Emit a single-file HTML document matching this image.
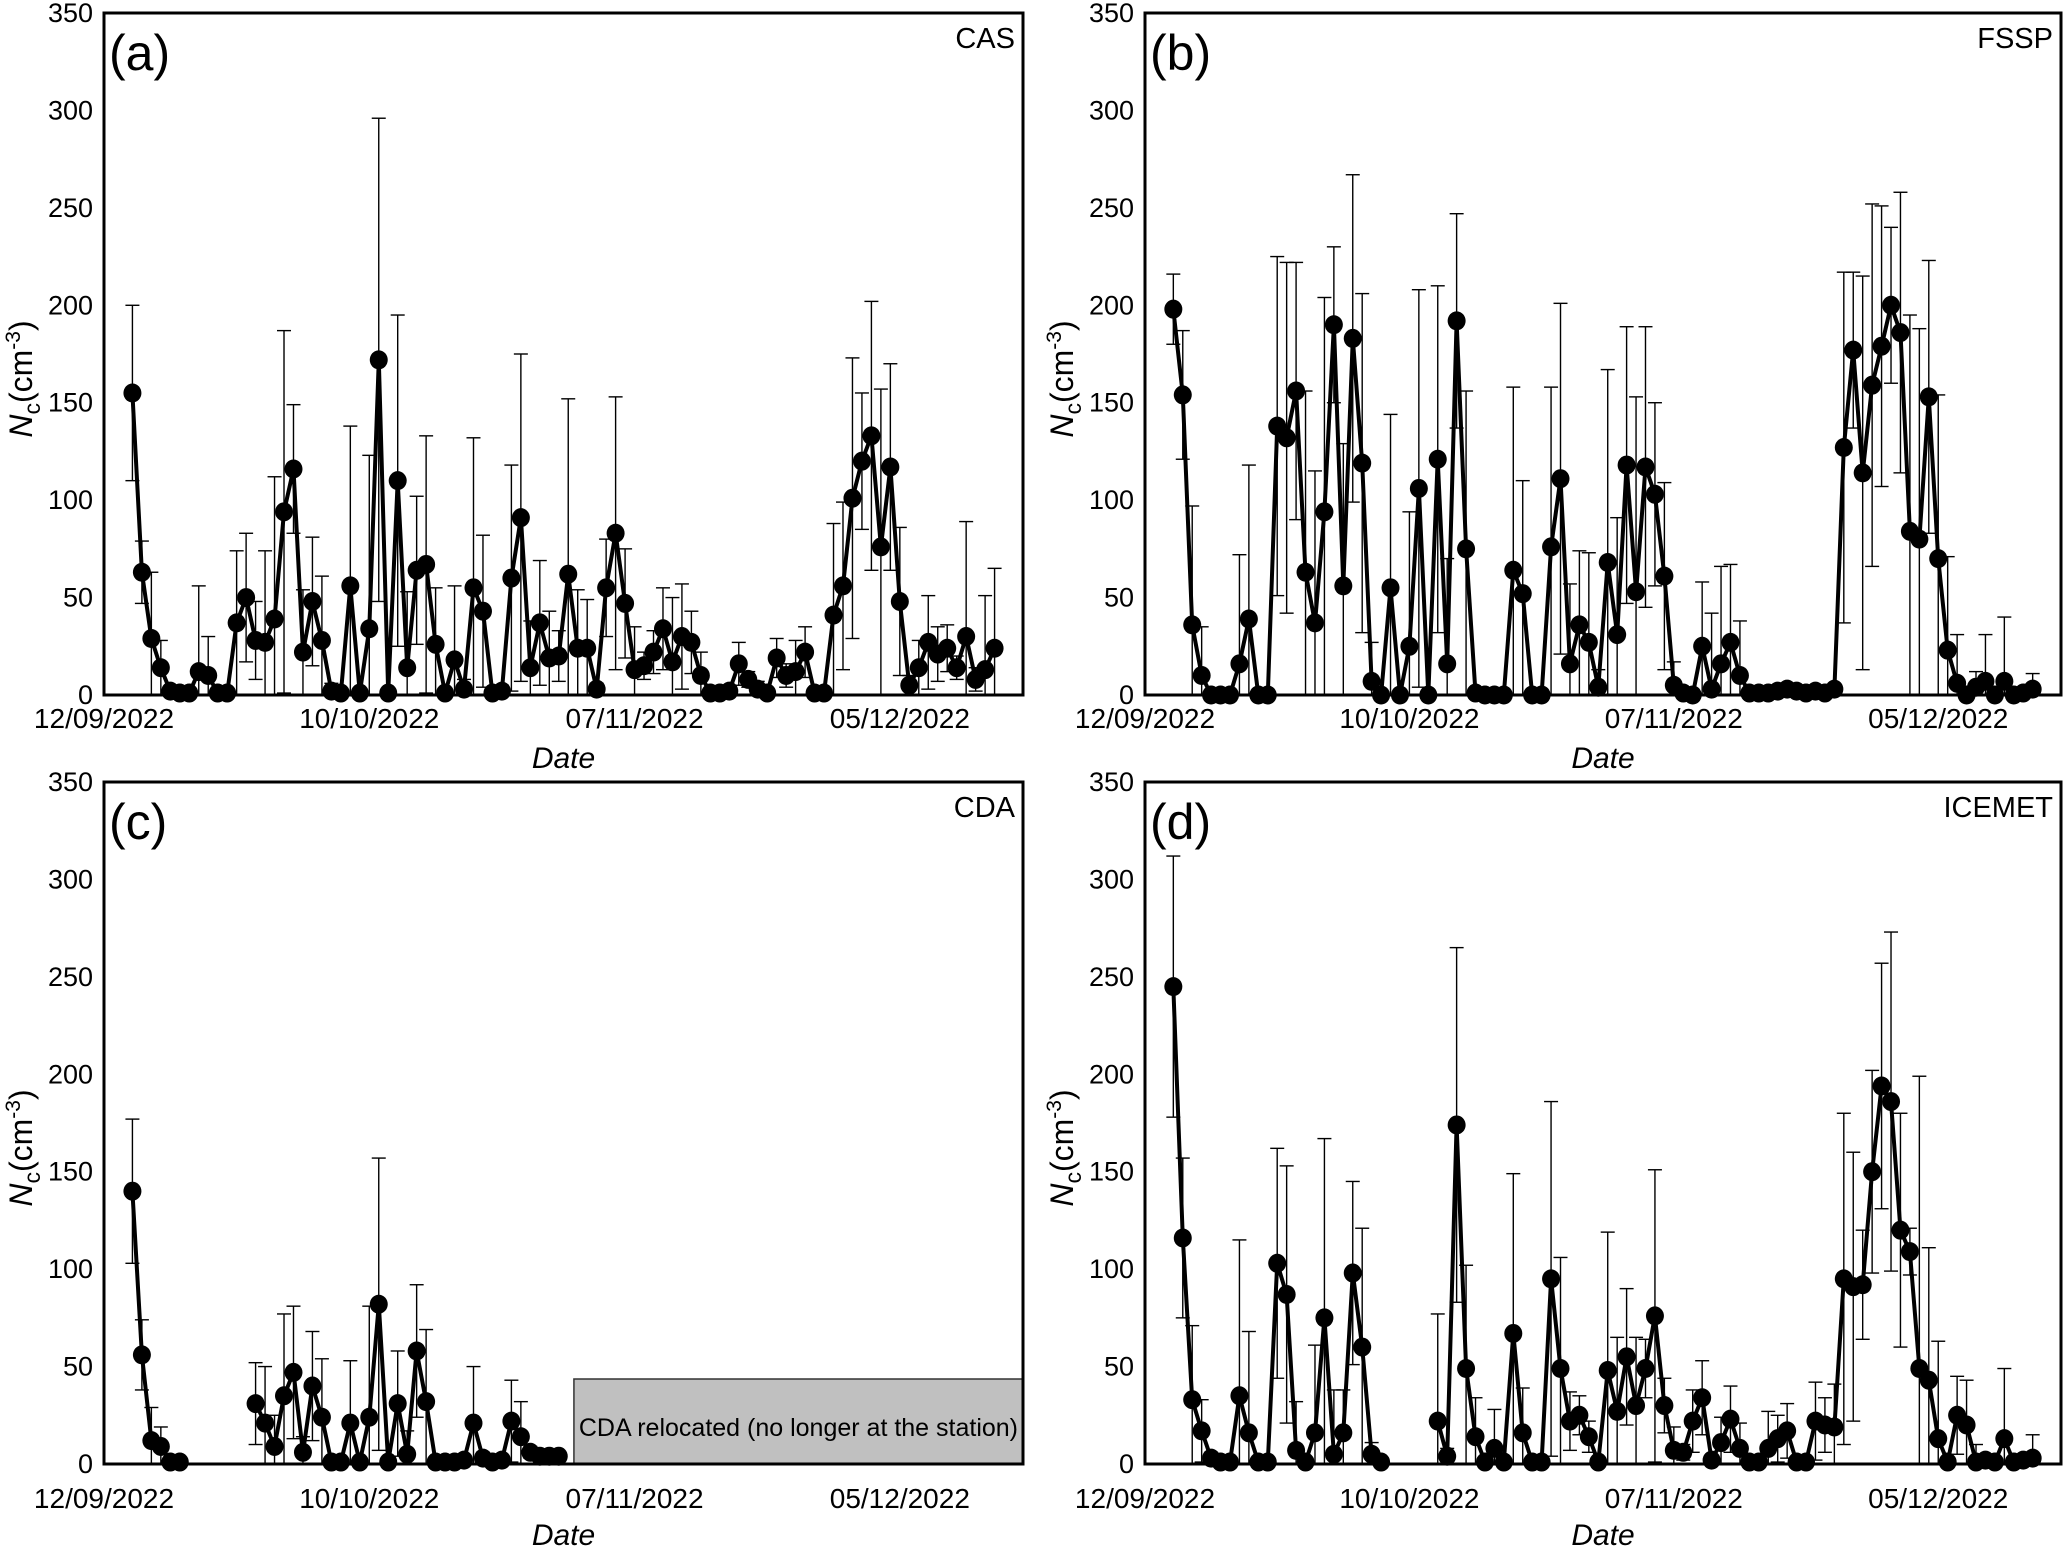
<!DOCTYPE html>
<html><head><meta charset="utf-8"><style>
html,body{margin:0;padding:0;background:#fff;}
svg{display:block;font-family:"Liberation Sans",Arial,sans-serif;}
</style></head><body>
<svg id="chart" width="2067" height="1547" viewBox="0 0 2067 1547" xmlns="http://www.w3.org/2000/svg"></svg>
<script>
const days = [3,4,5,6,7,8,9,10,11,12,13,14,15,16,17,18,19,20,21,22,23,24,25,26,27,28,29,30,31,32,33,34,35,36,37,38,39,40,41,42,43,44,45,46,47,48,49,50,51,52,53,54,55,56,57,58,59,60,61,62,63,64,65,66,67,68,69,70,71,72,73,74,75,76,77,78,79,80,81,82,83,84,85,86,87,88,89,90,91,92,93,94];
const xTickDays = [0,28,56,84];
const xTickLabels = ["12/09/2022","10/10/2022","07/11/2022","05/12/2022"];
const yTicks = [0,50,100,150,200,250,300,350];
const N = null;
const casVals = [155,63,29,14,2,1,1,12,10,1, 1,37,50,28,27,39,94,116,22,48, 28,2,1,56,1,34,172,1,110,14, 64,67,26,1,18,3,55,43,1,2, 60,91,14,37,19,20,62,24,24,3, 55,83,47,13,15,22,34,17,30,27, 10,1,1,2,16,8,3,1,19,10, 12,22,1,1,41,56,101,120,133,76, 117,48,5,14,27,21,24,14,30,8, 13,24];
const casUp = [200,79,63,28,4,2,2,56,30,2, 2,74,83,48,74,112,187,149,54,81, 61,6,2,138,2,123,296,2,195,53, 102,133,55,2,56,8,132,82,2,5, 118,175,38,69,43,33,152,54,49,6, 80,153,75,35,22,33,55,50,57,43, 22,2,2,5,27,12,7,2,29,16, 28,35,2,2,88,99,173,155,202,157, 170,86,10,28,51,35,36,20,89,14, 51,65];
const fsspVals = [198,154,36,10,0,0,0,16,39,0, 0,138,132,156,63,37,94,190,56,183, 119,7,0,55,0,25,106,0,121,16, 192,75,1,0,0,0,64,52,0,0, 76,111,16,36,27,4,68,31,118,53, 117,103,61,5,1,0,25,3,16,27, 10,1,1,1,2,3,2,1,2,1, 3,127,177,114,159,179,200,186,84,80, 153,70,23,6,0,4,7,0,7,0, 1,3];
const fsspUp = [216,187,97,35,1,1,1,72,118,1, 1,225,222,222,156,115,204,230,129,267, 206,27,1,144,1,94,208,1,210,70, 247,156,2,1,1,1,158,110,1,1, 158,201,57,74,73,13,167,91,189,153, 189,150,109,17,2,1,58,42,66,67, 38,2,2,2,4,5,4,2,4,2, 5,217,217,215,252,251,240,258,195,188, 223,154,71,31,1,12,31,1,40,1, 3,11];
const cdaVals = [140,56,12,9,1,1,N,N,N,N, N,N,N,31,21,9,35,47,6,40, 24,1,1,21,1,24,82,1,31,5, 58,32,1,1,1,2,21,3,1,2, 22,14,6,4,4,4,N,N,N,N, N,N,N,N,N,N,N,N,N,N, N,N,N,N,N,N,N,N,N,N, N,N,N,N,N,N,N,N,N,N, N,N,N,N,N,N,N,N,N,N, N,N];
const cdaUp = [177,74,29,19,2,2,N,N,N,N, N,N,N,52,50,25,77,81,14,68, 54,2,2,53,2,81,157,2,58,17, 92,69,2,2,2,4,50,6,2,4, 43,32,9,6,6,6,N,N,N,N, N,N,N,N,N,N,N,N,N,N, N,N,N,N,N,N,N,N,N,N, N,N,N,N,N,N,N,N,N,N, N,N,N,N,N,N,N,N,N,N, N,N];
const icemetVals = [245,116,33,17,3,1,1,35,16,1, 1,103,87,7,1,16,75,5,16,98, 60,5,1,N,N,N,N,N,22,4, 174,49,14,1,8,1,67,16,1,1, 95,49,22,25,14,1,48,27,55,30, 49,76,30,7,6,22,34,2,11,23, 8,1,1,8,13,17,1,1,22,20, 19,95,91,92,150,194,186,120,109,49, 43,13,1,25,20,1,2,1,13,1, 2,3];
const icemetUp = [312,157,71,33,6,2,2,115,68,2, 2,162,153,32,2,61,167,38,38,145, 121,11,2,N,N,N,N,N,77,8, 265,102,34,2,28,2,149,39,2,2, 186,106,37,35,22,2,119,65,90,65, 64,151,44,19,10,38,53,4,24,40, 21,2,2,27,25,31,2,2,42,34, 41,180,160,120,202,257,273,180,121,199, 111,63,2,45,43,10,5,2,49,2, 5,15];

const NS = "http://www.w3.org/2000/svg";
const svg = document.getElementById("chart");
function mk(tag, attrs, parent){
  const e = document.createElementNS(NS, tag);
  for (const k in attrs) e.setAttribute(k, attrs[k]);
  (parent||svg).appendChild(e);
  return e;
}
const panels = [
  {id:"a", letter:"(a)", inst:"CAS", vals:casVals, up:casUp, l:104, r:1023, t:13, b:695, tickY:728, titleY:768},
  {id:"b", letter:"(b)", inst:"FSSP", vals:fsspVals, up:fsspUp, l:1145, r:2061, t:13, b:695, tickY:728, titleY:768},
  {id:"c", letter:"(c)", inst:"CDA", vals:cdaVals, up:cdaUp, l:104, r:1023, t:782, b:1464, tickY:1508, titleY:1545},
  {id:"d", letter:"(d)", inst:"ICEMET", vals:icemetVals, up:icemetUp, l:1145, r:2061, t:782, b:1464, tickY:1508, titleY:1545}
];
const DAYSPAN = 97, YMAX = 350;
panels.forEach(p => {
  const g = mk("g", {});
  
  
  const X = d => p.l + d / DAYSPAN * (p.r - p.l);
  const Y = v => p.b - v / YMAX * (p.b - p.t);
  yTicks.forEach(v => {
    const t = mk("text", {x:p.l-11, y:Y(v)+9, "font-size":27, "text-anchor":"end", fill:"#000"}, g);
    t.textContent = v;
    
    
  });
  xTickDays.forEach((d, i) => {
    const t = mk("text", {x:X(d), y:p.tickY, "font-size":28, "text-anchor":"middle", fill:"#000"}, g);
    t.textContent = xTickLabels[i];
    
    
  });
  const xt = mk("text", {x:(p.l+p.r)/2, y:p.titleY, "font-size":30, "font-style":"italic", "text-anchor":"middle", fill:"#000"}, g);
  xt.textContent = "Date";
  
  
  const yc = (p.t+p.b)/2 + 25, yx = p.l - 72;
  const yt = mk("text", {x:yx, y:yc, "font-size":32, "text-anchor":"middle", fill:"#000", transform:`rotate(-90 ${yx} ${yc})`}, g);
  yt.innerHTML = '<tspan font-style="italic">N</tspan><tspan font-size="23" dy="8">c</tspan><tspan dy="-8">(cm</tspan><tspan font-size="21" dy="-12">-3</tspan><tspan dy="12">)</tspan>';
  
  
  if (p.id === "c") {
    const bx = mk("rect", {x:X(49.6), y:1379, width:p.r - X(49.6), height:p.b-1379, fill:"#c0c0c0", stroke:"#333", "stroke-width":1.5}, g);
    
    
    const bt = mk("text", {x:(X(49.6)+p.r)/2, y:1436, "font-size":25, "text-anchor":"middle", fill:"#000"}, g);
    bt.textContent = "CDA relocated (no longer at the station)";
    
    
  }
  days.forEach((d, i) => {
    const v = p.vals[i], u = p.up[i];
    if (v === null || u === null) return;
    const lo = Math.max(0, 2*v - u);
    const x = X(d);
    const e = mk("g", {stroke:"#000", "stroke-width":1.4}, g);
    
    
    mk("line", {x1:x, x2:x, y1:Y(u), y2:Y(lo)}, e);
    mk("line", {x1:x-7, x2:x+7, y1:Y(u), y2:Y(u)}, e);
    if (lo > 0.5) mk("line", {x1:x-7, x2:x+7, y1:Y(lo), y2:Y(lo)}, e);
  });
  let segs = [], cur = [];
  days.forEach((d, i) => {
    const v = p.vals[i];
    if (v === null) { if (cur.length) segs.push(cur); cur = []; }
    else cur.push(X(d).toFixed(1) + "," + Y(v).toFixed(1));
  });
  if (cur.length) segs.push(cur);
  segs.forEach(s => {
    const pl = mk("polyline", {points:s.join(" "), fill:"none", stroke:"#000", "stroke-width":4, "stroke-linejoin":"round"}, g);
    
    
  });
  days.forEach((d, i) => {
    const v = p.vals[i];
    if (v === null) return;
    const c = mk("ellipse", {cx:X(d), cy:Y(v), rx:9, ry:9.5, fill:"#000"}, g);
    
    
  });
  const fr = mk("rect", {x:p.l, y:p.t, width:p.r-p.l, height:p.b-p.t, fill:"none", stroke:"#000", "stroke-width":3}, g);
  
  
  const lt = mk("text", {x:p.l+5, y:p.t+57, "font-size":50, fill:"#000"}, g);
  lt.textContent = p.letter;
  
  
  const it = mk("text", {x:p.r-8, y:p.t+35, "font-size":29, "text-anchor":"end", fill:"#000"}, g);
  it.textContent = p.inst;
  
  
});
</script>
</body></html>
